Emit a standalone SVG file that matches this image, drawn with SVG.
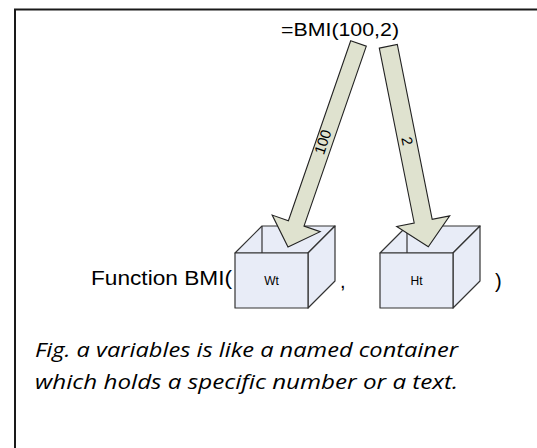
<svg xmlns="http://www.w3.org/2000/svg" width="537" height="448" viewBox="0 0 537 448">
  <style>
    .frame { fill: none; stroke: #1a1a1a; stroke-width: 2; }
    .lbl { font-family: "Liberation Sans", Arial, sans-serif; fill: #000; }
    .cube { fill: #e8ecf7; stroke: #333; stroke-width: 1.2; stroke-linejoin: round; }
    .edge { stroke: #333; stroke-width: 1.2; fill: none; }
    .arrow { fill: #dfe2cf; stroke: #222; stroke-width: 1.1; stroke-linejoin: miter; }
    .alabel { font-family: "Liberation Sans", Arial, sans-serif; font-size: 15px; fill: #000; }
    .caption { font-family: "Open Sans", "Noto Sans", sans-serif; font-style: italic; font-size: 20px; fill: #000; }
  </style>

  <!-- page frame (top and left edges) -->
  <path class="frame" d="M15,448 V9.5 H537"/>

  <!-- formula call -->
  <g id="call">
    <text class="lbl" x="281" y="36" font-size="18" textLength="118" lengthAdjust="spacingAndGlyphs">=BMI(100,2)</text>
  </g>

  <!-- function signature text -->
  <g id="signature">
    <text class="lbl" x="91" y="285" font-size="20" textLength="141" lengthAdjust="spacingAndGlyphs">Function BMI(</text>
    <text class="lbl" x="340" y="288" font-size="20">,</text>
    <text class="lbl" x="495" y="288" font-size="20">)</text>
  </g>

  <!-- container Wt -->
  <g id="box-wt">
    <polygon class="cube" points="235,253 262,226 335,226 308,253"/>
    <line class="edge" x1="262" y1="226" x2="262" y2="253"/>
    <polygon class="cube" points="308,253 335,226 335,281 308,308"/>
    <rect class="cube" x="235" y="253" width="73" height="55"/>
    <text class="lbl" x="271.5" y="285" font-size="12" text-anchor="middle">Wt</text>
  </g>

  <!-- container Ht -->
  <g id="box-ht">
    <polygon class="cube" points="380,253 407,226 480,226 453,253"/>
    <line class="edge" x1="407" y1="226" x2="407" y2="253"/>
    <polygon class="cube" points="453,253 480,226 480,281 453,308"/>
    <rect class="cube" x="380" y="253" width="73" height="55"/>
    <text class="lbl" x="416.5" y="285" font-size="12" text-anchor="middle">Ht</text>
  </g>

  <!-- connectors: arguments passed into the containers -->
  <g id="connectors">
    <polygon class="arrow" points="350.7,40.8 366.3,46.2 304.0,226.1 320.2,231.7 288,247 272.2,215.1 288.4,220.7"/>
    <text class="alabel" transform="translate(323,142) rotate(-71)" text-anchor="middle" dy="5">100</text>

    <polygon class="arrow" points="379.3,48.1 397.3,44.5 432.2,219.4 449.7,215.9 428.3,246.7 396.7,226.5 414.2,223.0"/>
    <text class="alabel" transform="translate(407,141) rotate(78.7)" text-anchor="middle" dy="5">2</text>
  </g>

  <!-- caption -->
  <g id="caption">
    <text class="caption" x="35" y="357" textLength="423" lengthAdjust="spacingAndGlyphs">Fig. a variables is like a named container</text>
    <text class="caption" x="35" y="389" textLength="423" lengthAdjust="spacingAndGlyphs">which holds a specific number or a text.</text>
  </g>
</svg>
